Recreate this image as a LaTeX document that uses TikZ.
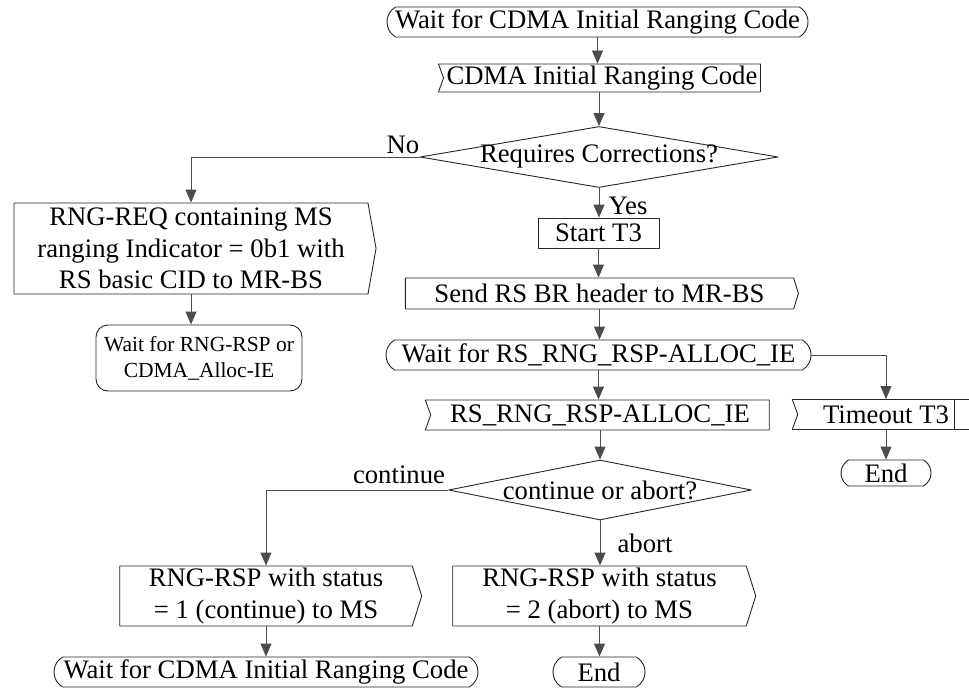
\documentclass[tikz,border=0pt]{standalone}
\usepackage{fontspec}
\setmainfont{Liberation Serif}
\usetikzlibrary{shapes.geometric,shapes.misc,shapes.symbols,arrows.meta}
\begin{document}
\begin{tikzpicture}[x=1pt,y=1pt,>={Triangle[length=13pt,width=11pt]}, line join=round,
    every node/.style={font=\fontsize{26.7}{31.5}\selectfont, inner sep=0pt, align=center},
    box/.style={draw=black!85, line width=.9pt},
    term/.style={box, rounded rectangle, rounded rectangle arc length=120, minimum height=30pt},
    inbox/.style={box, signal, signal from=west, signal to=nowhere, signal pointer angle=140, minimum height=30pt},
    outbox/.style={box, signal, signal to=east, signal pointer angle=145, minimum height=30pt},
    plainbox/.style={box, rectangle, minimum height=30pt},
    decision/.style={box, diamond},
    flow/.style={->, draw=black!70, line width=.9pt}]
    \useasboundingbox (0,0) rectangle (969,-690);
    \clip (0,0) rectangle (969,-690);
    % main column
    \node[term, minimum width=421pt] (start) at (597.5,-22) {Wait for CDMA Initial Ranging Code};
    \node[inbox, minimum width=322pt, minimum height=28pt] (cdma) at (602,-78) {CDMA Initial Ranging Code};
    \node[decision, minimum width=358pt, minimum height=61pt] (corr) at (599,-157) {\makebox[0pt]{Requires Corrections?}};
    \node[plainbox, minimum width=121pt] (startt) at (598.5,-233) {Start T3};
    \node[outbox, minimum width=393pt, minimum height=31pt] (send) at (599.5,-293.5) {Send RS BR header to MR-BS};
    \node[term, minimum width=425pt] (waitrs) at (598.5,-355) {Wait for RS\_RNG\_RSP-ALLOC\_IE};
    \node[inbox, minimum width=344pt] (rsalloc) at (600,-415) {RS\_RNG\_RSP-ALLOC\_IE};
    \node[decision, minimum width=303pt, minimum height=60pt] (choice) at (600,-490) {\makebox[0pt]{continue or abort?}};
    \node[outbox, minimum width=303pt, minimum height=60pt] (rspa) at (599.5,-596) {RNG-RSP with status\\= 2 (abort) to MS};
    \node[term, minimum width=92pt] (endb) at (599,-672) {End};
    % timeout branch
    \node[inbox, minimum width=182pt] (timeout) at (886,-414.5) {Timeout T3};
    \node[term, minimum width=90pt, minimum height=26pt] (endt) at (886,-473) {End};
    % left branches
    \node[outbox, minimum width=362pt, minimum height=91pt, signal pointer angle=160] (req) at (191,-248.5)
        {RNG-REQ containing MS\\ranging Indicator = 0b1 with\\RS basic CID to MR-BS};
    \node[box, rectangle, rounded corners=12pt, minimum width=206pt, minimum height=66pt,
        font=\fontsize{21.5}{26}\selectfont] (waitrng) at (199,-358) {Wait for RNG-RSP or\\CDMA\_Alloc-IE};
    \node[outbox, minimum width=302pt, minimum height=60pt] (rspc) at (266,-596) {RNG-RSP with status\\= 1 (continue) to MS};
    \node[term, minimum width=424pt] (waitcd) at (266,-672) {Wait for CDMA Initial Ranging Code};
    % labels
    \node (lno) at (403,-145) {No};
    \node (lyes) at (628,-206) {Yes};
    \node (lcont) at (399,-475) {continue};
    \node (labort) at (645,-543) {abort};
    % connectors
    \draw[flow] (start.south) -- (start.south |- cdma.north);
    \draw[flow] (corr.north |- cdma.south) -- (corr.north);
    \draw[flow] (corr.west) -| (req.north);
    \draw[flow] (corr.south) -- (corr.south |- startt.north);
    \draw[flow] (startt.south) -- (startt.south |- send.north);
    \draw[flow] (send.south) -- (send.south |- waitrs.north);
    \draw[flow] (waitrs.south) -- (waitrs.south |- rsalloc.north);
    \draw[flow] (rsalloc.south) -- (rsalloc.south |- choice.north);
    \draw[flow] (waitrs.east) -| (timeout.north);
    \draw[flow] (timeout.south) -- (endt.north);
    \draw[flow] (choice.west) -| (rspc.north);
    \draw[flow] (choice.south) -- (choice.south |- rspa.north);
    \draw[flow] (rspc.south) -- (rspc.south |- waitcd.north);
    \draw[flow] (rspa.south) -- (rspa.south |- endb.north);
    \draw[flow] (req.south) -- (req.south |- waitrng.north);
    \draw[box] ([xshift=68pt]timeout.north) -- ([xshift=68pt]timeout.south);
\end{tikzpicture}
\end{document}
